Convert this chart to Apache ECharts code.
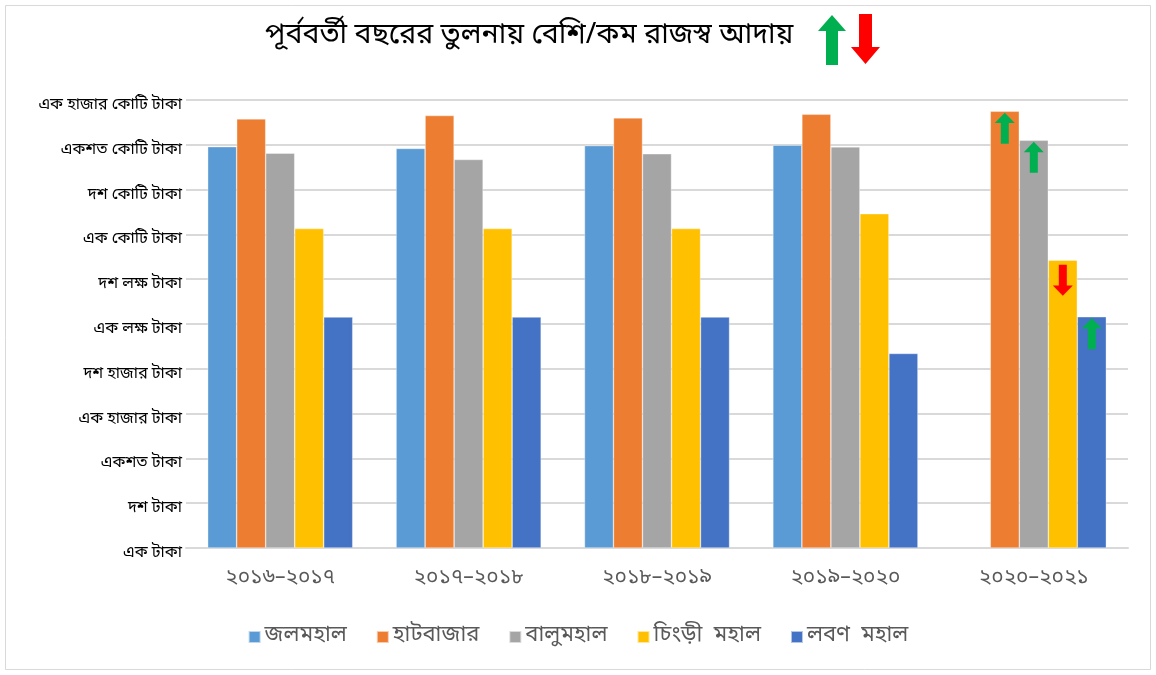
<!DOCTYPE html>
<html>
<head>
<meta charset="utf-8">
<script src="https://cdn.jsdelivr.net/npm/echarts@6/dist/echarts.min.js"></script>
<style>
  html, body { margin: 0; padding: 0; background: #fff; }
  #chart { width: 1156px; height: 675px; }
</style>
</head>
<body>
<div id="chart"></div>
<script>
const years = ['২০১৬–২০১৭', '২০১৭–২০১৮', '২০১৮–২০১৯', '২০১৯–২০২০', '২০২০–২০২১']
const seriesNames = ['জলমহাল', 'হাটবাজার', 'বালুমহাল', 'চিংড়ী  মহাল', 'লবণ  মহাল']
const colors = ['#5B9BD5', '#ED7D31', '#A5A5A5', '#FFC000', '#4472C4']

// revenue in taka (log scale)
const jolmohal = [9.1e8, 8.3e8, 9.6e8, 9.8e8, null]
const hatbazar = [3.8e9, 4.5e9, 4.0e9, 4.8e9, 5.6e9]
const balumohal = [6.5e8, 4.7e8, 6.3e8, 9.0e8, 1.26e9]
const chingri = [1.35e7, 1.35e7, 1.35e7, 2.9e7, 2.65e6]
const lobon = [1.43e5, 1.43e5, 1.43e5, 2.2e4, 1.45e5]

// last year vs previous: up / down marks
const trend = [null, 'up', 'up', 'down', 'up']

const yLabels = [
  'এক টাকা', 'দশ টাকা', 'একশত টাকা', 'এক হাজার টাকা', 'দশ হাজার টাকা',
  'এক লক্ষ টাকা', 'দশ লক্ষ টাকা', 'এক কোটি টাকা', 'দশ কোটি টাকা',
  'একশত কোটি টাকা', 'এক হাজার কোটি টাকা'
]

const FONT = '"Noto Sans Bengali", "Noto Sans", sans-serif'
const UP = 'path://M10,0 L20,10 L14,10 L14,30 L6,30 L6,10 L0,10 Z'
const DOWN = 'path://M6,0 L14,0 L14,20 L20,20 L10,30 L0,20 L6,20 Z'

const values = [jolmohal, hatbazar, balumohal, chingri, lobon]

function arrowMark(i) {
  const t = trend[i]
  const last = values[i][years.length - 1]
  if (!t || last == null) return undefined
  return {
    silent: true,
    animation: false,
    label: { show: false },
    data: [{
      coord: [years[years.length - 1], last],
      symbol: t === 'up' ? UP : DOWN,
      symbolSize: [20, 31],
      symbolOffset: [0, t === 'up' ? 17 : 20],
      itemStyle: { color: t === 'up' ? '#00B050' : '#FF0000' }
    }]
  }
}

const chart = echarts.init(document.getElementById('chart'), null, { devicePixelRatio: window.devicePixelRatio || 1 })

chart.setOption({
  animation: false,
  color: colors,
  title: {
    text: 'পূর্ববর্তী বছরের তুলনায় বেশি/কম রাজস্ব আদায়',
    left: 260,
    top: 18,
    textStyle: { fontFamily: FONT, fontSize: 28.5, fontWeight: 'normal', color: '#000' }
  },
  graphic: [
    {
      type: 'rect', z: -10,
      shape: { x: 5.5, y: 5.5, width: 1145, height: 664 },
      style: { fill: '#fff', stroke: '#d9d9d9', lineWidth: 1 }
    },
    {
      type: 'polygon',
      shape: { points: [[832, 15], [846, 31], [838, 31], [838, 65], [826, 65], [826, 31], [818, 31]] },
      style: { fill: '#00B050' }
    },
    {
      type: 'polygon',
      shape: { points: [[859, 14], [872, 14], [872, 47], [880, 47], [865.5, 64], [851, 47], [859, 47]] },
      style: { fill: '#FF0000' }
    }
  ],
  legend: {
    bottom: 22,
    left: 'center',
    itemWidth: 12,
    itemHeight: 12,
    itemGap: 29,
    icon: 'rect',
    textStyle: { fontFamily: FONT, fontSize: 22, color: '#595959', padding: [0, 0, 0, -1] },
    data: seriesNames
  },
  grid: { left: 186, right: 28, top: 100, bottom: 127 },
  xAxis: {
    type: 'category',
    data: years,
    axisTick: { show: false },
    axisLine: { lineStyle: { color: '#d9d9d9', width: 2 } },
    axisLabel: { margin: 20, fontFamily: FONT, fontSize: 21, color: '#595959' }
  },
  yAxis: {
    type: 'log',
    logBase: 10,
    min: 1,
    max: 1e10,
    interval: 1,
    axisLine: { show: false },
    axisTick: { show: false },
    splitLine: { lineStyle: { color: '#d9d9d9', width: 2 } },
    axisLabel: {
      margin: 4,
      formatter: v => '{t|' + (yLabels[Math.round(Math.log10(v))] || '') + '}',
      rich: {
        t: { fontFamily: FONT, fontSize: 16, color: '#000', padding: [12, 0, 0, 0] }
      }
    }
  },
  series: seriesNames.map((name, i) => ({
    name,
    type: 'bar',
    barGap: '0%',
    barCategoryGap: '23%',
    data: values[i],
    itemStyle: { borderColor: 'rgba(255,255,255,0.6)', borderWidth: 0.6 },
    markPoint: arrowMark(i)
  }))
})
</script>
</body>
</html>
